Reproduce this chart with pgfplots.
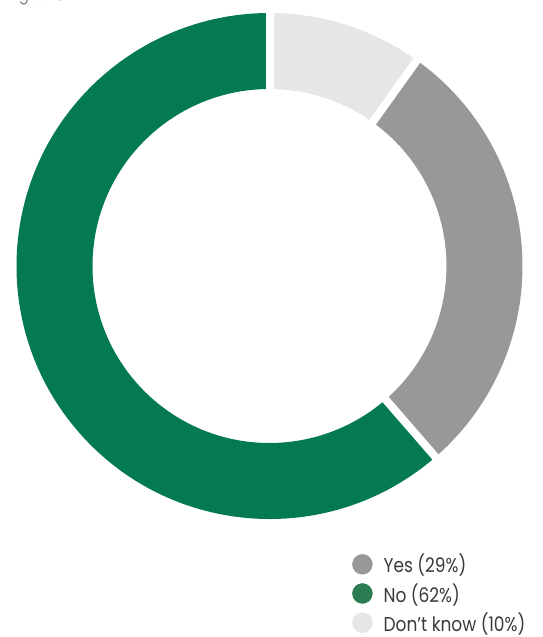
\documentclass[border=0pt]{standalone}
\usepackage{pgfplots}
\pgfplotsset{compat=1.18}
\usepackage{fontspec}
\setmainfont{Poppins}[FakeStretch=0.85]
\definecolor{cGreen}{HTML}{037A52}
\definecolor{cGray}{HTML}{989898}
\definecolor{cLight}{HTML}{E6E6E6}
\definecolor{cLegGreen}{HTML}{2C7C51}
\definecolor{cText}{HTML}{3A3A3A}
% data (percent)
\def\vDK{10}
\def\vYes{29}
\def\vNo{62}
\pgfmathsetmacro\tot{\vDK+\vYes+\vNo}
\pgfmathsetmacro\aA{90}
\pgfmathsetmacro\aB{\aA-360*(\vDK/\tot)}
\pgfmathsetmacro\aC{\aB-360*(\vYes/\tot)}
\pgfmathsetmacro\aD{\aC-360*(\vNo/\tot)}
\def\cx{269.5}
\def\cy{266}
\def\Ro{253}
\def\Ri{177}
\newcommand\sector[3]{%
  \fill[#3] (axis cs:{\cx+\Ro*cos(#1)},{\cy-\Ro*sin(#1)})
    arc[start angle=#1, end angle=#2, radius=\Ro pt]
    -- (axis cs:{\cx+\Ri*cos(#2)},{\cy-\Ri*sin(#2)})
    arc[start angle=#2, end angle=#1, radius=\Ri pt] -- cycle;}
\newcommand\gap[1]{%
  \draw[white, line width=8pt] (axis cs:{\cx+(\Ri-5)*cos(#1)},{\cy-(\Ri-5)*sin(#1)})
    -- (axis cs:{\cx+(\Ro+5)*cos(#1)},{\cy-(\Ro+5)*sin(#1)});}
\begin{document}
\begin{tikzpicture}[x=1pt,y=1pt]
\path[use as bounding box] (0,0) rectangle (543,637);
\begin{axis}[hide axis, scale only axis, width=543pt, height=637pt,
  at={(0,0)}, anchor=south west, xmin=0, xmax=543, ymin=0, ymax=637,
  y dir=reverse, clip=false,
  legend style={at={(axis cs:349,551)}, anchor=north west, draw=none, fill=none,
    font=\fontsize{20}{24}\selectfont\color{cText}, row sep=7pt,
    nodes={inner sep=1pt, anchor=west}},
  legend cell align=left]
\sector{\aA}{\aB}{cLight}
\sector{\aB}{\aC}{cGray}
\sector{\aC}{\aD}{cGreen}
\gap{\aA}
\gap{\aB}
\gap{\aC}
\addlegendimage{legend image code/.code={\fill[cGray] (0pt,0pt) circle (10pt);}}
\addlegendentry{\hspace{10pt}Yes (29\%)}
\addlegendimage{legend image code/.code={\fill[cLegGreen] (0pt,0pt) circle (10pt);}}
\addlegendentry{\hspace{10pt}No (62\%)}
\addlegendimage{legend image code/.code={\fill[cLight] (0pt,0pt) circle (10pt);}}
\addlegendentry{\hspace{10pt}Don’t know (10\%)}
\node[anchor=base west, text=gray, font=\fontsize{17}{20}\selectfont, inner sep=0pt] at (axis cs:8,1) {Figure 8};
\end{axis}
\end{tikzpicture}
\end{document}
